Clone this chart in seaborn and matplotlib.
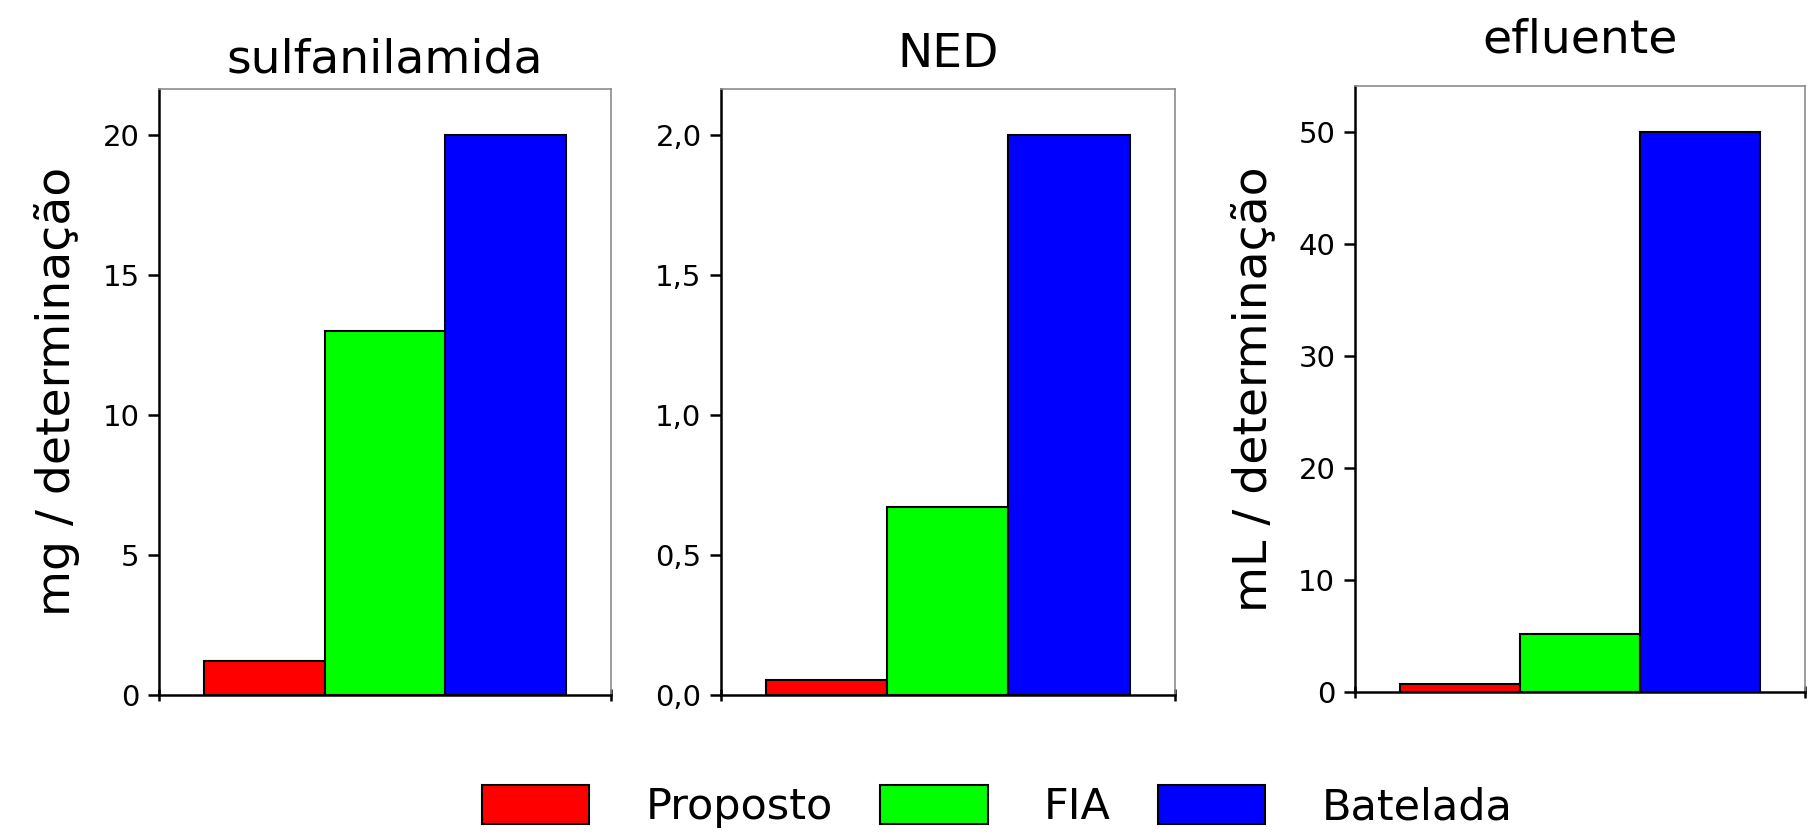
import pandas as pd
import numpy as np
import matplotlib
matplotlib.use("Agg")
import matplotlib.pyplot as plt
import seaborn as sns
from matplotlib.ticker import FuncFormatter

# Dados
metodos = ["Proposto", "FIA", "Batelada"]
cores = ["#FF0000", "#00FF00", "#0000FF"]
paineis = ["sulfanilamida", "NED", "efluente"]
sulfanilamida = [1.2, 13.0, 20.0]
ned = [0.055, 0.67, 2.0]
efluente = [0.7, 5.2, 50.0]
yticks_sulf = [0, 5, 10, 15, 20]
yticks_ned = [0.0, 0.5, 1.0, 1.5, 2.0]
yticks_eflu = [0, 10, 20, 30, 40, 50]
ylabels = ["mg / determinação", "", "mL / determinação"]

valores = [sulfanilamida, ned, efluente]
df = pd.DataFrame({
    "painel": np.repeat(paineis, len(metodos)),
    "metodo": metodos * len(paineis),
    "valor": np.concatenate(valores),
})

sns.set_style("white")
plt.rcParams["font.family"] = ["DejaVu Sans"]
plt.rcParams["text.color"] = "black"
plt.rcParams["axes.labelcolor"] = "black"
plt.rcParams["xtick.color"] = "black"
plt.rcParams["ytick.color"] = "black"

fig = plt.figure(figsize=(18.16, 8.35), dpi=100)
posicoes = [
    [0.0876, 0.1677, 0.249, 0.726],
    [0.397, 0.1677, 0.250, 0.726],
    [0.746, 0.171, 0.248, 0.726],
]
ylims = [21.66, 2.166, 54.1]
yticks = [yticks_sulf, yticks_ned, yticks_eflu]
title_pads = [12, 16, 24]

axes = []
for i, nome in enumerate(paineis):
    ax = fig.add_axes(posicoes[i])
    sub = df[df["painel"] == nome]
    sns.barplot(data=sub, x="painel", y="valor", hue="metodo",
                hue_order=metodos, palette=cores, saturation=1, width=0.8,
                edgecolor="black", linewidth=1.5, ax=ax,
                legend=(i == 0))
    ax.set_xlim(-0.5, 0.5)
    ax.set_ylim(0, ylims[i])
    ax.set_yticks(yticks[i])
    if i == 1:
        ax.yaxis.set_major_formatter(FuncFormatter(lambda v, p: f"{v:.1f}".replace(".", ",")))
    else:
        ax.yaxis.set_major_formatter(FuncFormatter(lambda v, p: f"{v:.0f}"))
    ax.set_xticks([-0.5, 0.5])
    ax.set_xticklabels(["", ""])
    ax.tick_params(axis="x", direction="inout", length=8, width=1.8,
                   color="black", bottom=True)
    ax.tick_params(axis="y", direction="out", length=8, width=1.8, color="black",
                   labelsize=21, labelcolor="black", pad=6, left=True)
    ax.set_xlabel("")
    ax.set_ylabel(ylabels[i], fontsize=34, labelpad=16, color="black")
    ax.set_title(nome, fontsize=34, pad=title_pads[i], color="black")
    for s in ["left", "bottom"]:
        ax.spines[s].set_color("black")
        ax.spines[s].set_linewidth(1.8)
    for s in ["top", "right"]:
        ax.spines[s].set_color("#8c8c8c")
        ax.spines[s].set_linewidth(1.2)
    axes.append(ax)

handles, labels = axes[0].get_legend_handles_labels()
axes[0].get_legend().remove()
fig.legend(handles, labels, loc="center", bbox_to_anchor=(0.549, 0.034),
           ncol=3, frameon=False, fontsize=31, handlelength=2.5,
           handleheight=1.0, handletextpad=1.3, columnspacing=1.1,
           labelcolor="black")

fig.savefig("out.png", dpi=100)
